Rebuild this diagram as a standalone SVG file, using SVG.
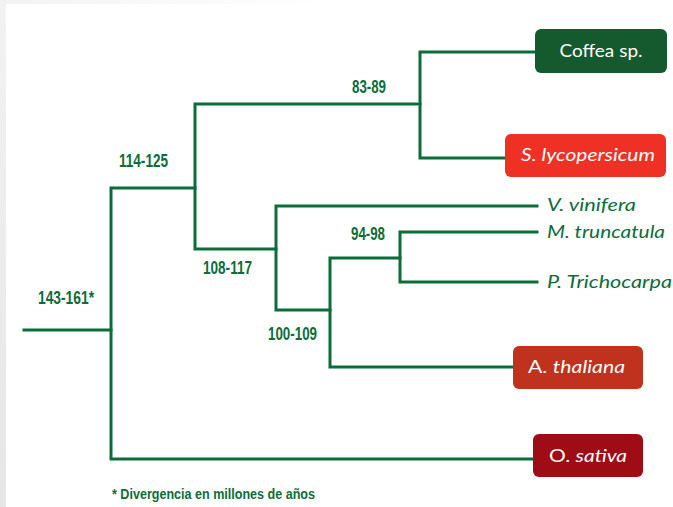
<svg xmlns="http://www.w3.org/2000/svg" width="673" height="507" viewBox="0 0 673 507">
  <defs>
    <linearGradient id="edgeV" x1="0" y1="0" x2="0" y2="1">
      <stop offset="0" stop-color="#f2f2f2"/>
      <stop offset="1" stop-color="#e6e6e6"/>
    </linearGradient>
    <linearGradient id="edgeH" x1="0" y1="0" x2="1" y2="0">
      <stop offset="0" stop-color="#f3f3f3"/>
      <stop offset="1" stop-color="#ffffff"/>
    </linearGradient>
  </defs>
  <style>
    .branch { fill: none; stroke: #0b6d39; stroke-width: 3; stroke-linecap: square; stroke-linejoin: miter; }
    .age { font-family: "Liberation Sans Narrow", "Liberation Sans", Arial, sans-serif; font-weight: bold; font-size: 18.5px; fill: #0b6d39; }
    .taxon { font-family: "Lato", "Open Sans", "Liberation Sans", sans-serif; font-size: 17px; fill: #0b6d39; font-style: italic; }
    .box-text { font-family: "Lato", "Open Sans", "Liberation Sans", sans-serif; font-size: 17px; fill: #ffffff; }
    .it { font-style: italic; }
    .note { font-family: "Liberation Sans Narrow", "Liberation Sans", Arial, sans-serif; font-weight: bold; font-size: 14px; fill: #0b6d39; }
  </style>

  <!-- page background with soft edge -->
  <rect x="0" y="0" width="673" height="507" fill="#ffffff"/>
  <rect x="0" y="0" width="6" height="507" fill="url(#edgeV)"/>
  <rect x="6" y="0" width="320" height="4" fill="url(#edgeH)"/>

  <!-- tree branches -->
  <g id="connectors">
    <path class="branch" d="M24,330 H111"/>
    <path class="branch" d="M535,52 H420 V158 H505"/>
    <path class="branch" d="M420,104 H195 V249 H276"/>
    <path class="branch" d="M195,188 H111 V459 H533"/>
    <path class="branch" d="M537,206 H276 V310 H330"/>
    <path class="branch" d="M537,232 H400 V282 H537"/>
    <path class="branch" d="M400,258 H330 V367 H513"/>
  </g>

  <!-- divergence ages -->
  <g id="ages">
    <text class="age" x="352" y="93" textLength="34" lengthAdjust="spacingAndGlyphs">83-89</text>
    <text class="age" x="119" y="167" textLength="49" lengthAdjust="spacingAndGlyphs">114-125</text>
    <text class="age" x="38" y="304" textLength="56" lengthAdjust="spacingAndGlyphs">143-161*</text>
    <text class="age" x="203" y="274" textLength="49" lengthAdjust="spacingAndGlyphs">108-117</text>
    <text class="age" x="351" y="240" textLength="34" lengthAdjust="spacingAndGlyphs">94-98</text>
    <text class="age" x="268" y="340" textLength="49" lengthAdjust="spacingAndGlyphs">100-109</text>
  </g>

  <!-- boxed taxa -->
  <g id="coffea">
    <rect x="535" y="29" width="132" height="44" rx="6" fill="#15592e"/>
    <text class="box-text" x="601" y="57" text-anchor="middle" textLength="83" lengthAdjust="spacingAndGlyphs">Coffea sp.</text>
  </g>
  <g id="s-lycopersicum">
    <rect x="505" y="134" width="161" height="43" rx="6" fill="#ee3124"/>
    <text class="box-text it" x="521" y="161" textLength="134" lengthAdjust="spacingAndGlyphs">S. lycopersicum</text>
  </g>
  <g id="a-thaliana">
    <rect x="513" y="346" width="130" height="43" rx="6" fill="#c0311e"/>
    <text class="box-text" x="528" y="373" textLength="97" lengthAdjust="spacingAndGlyphs">A. <tspan class="it">thaliana</tspan></text>
  </g>
  <g id="o-sativa">
    <rect x="533" y="434" width="110" height="43" rx="6" fill="#9e0d15"/>
    <text class="box-text" x="549" y="462" textLength="78" lengthAdjust="spacingAndGlyphs">O. <tspan class="it">sativa</tspan></text>
  </g>

  <!-- plain taxa -->
  <g id="v-vinifera">
    <text class="taxon" x="547" y="211" textLength="89" lengthAdjust="spacingAndGlyphs">V. vinifera</text>
  </g>
  <g id="m-truncatula">
    <text class="taxon" x="547" y="238" textLength="118" lengthAdjust="spacingAndGlyphs">M. truncatula</text>
  </g>
  <g id="p-trichocarpa">
    <text class="taxon" x="547" y="288" textLength="125" lengthAdjust="spacingAndGlyphs">P. Trichocarpa</text>
  </g>

  <!-- footnote -->
  <text class="note" x="112" y="499" textLength="203" lengthAdjust="spacingAndGlyphs">* Divergencia en millones de años</text>
</svg>
